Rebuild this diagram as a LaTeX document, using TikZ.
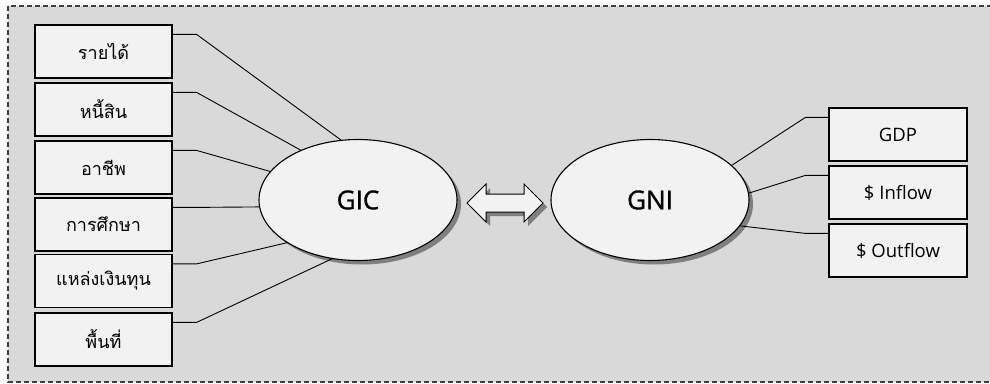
\documentclass[tikz,border=0pt]{standalone}
\usepackage{fontspec}
\setmainfont{Open Sans}
\newfontfamily\thaifont[Script=Thai]{Loma}
\newfontfamily\ellfont[FakeBold=1.2]{Open Sans}
\usetikzlibrary{shapes.geometric,calc}
\definecolor{bg}{HTML}{D9D9D9}
\definecolor{boxfill}{HTML}{F2F2F2}
\definecolor{frame}{HTML}{404040}
\definecolor{shadowc}{HTML}{7F7F7F}
\tikzset{
  leftbox/.style={draw=black, line width=1.2pt, fill=boxfill, minimum width=137, minimum height=53, inner sep=0pt, font=\thaifont\fontsize{18}{20}\selectfont},
  rightbox/.style={draw=black, line width=1.2pt, fill=boxfill, minimum width=138, minimum height=53, inner sep=0pt, font=\fontsize{18.5}{20}\selectfont},
  bigell/.style={ellipse, draw=black, line width=1.1pt, fill=boxfill, minimum width=198, minimum height=121, inner sep=0pt, font=\ellfont\fontsize{26}{30}\selectfont},
  link/.style={draw=black, line width=0.9pt},
}
\begin{document}
\begin{tikzpicture}[x=1pt,y=-1pt]
\useasboundingbox (0,0) rectangle (990,383);
\clip (0,0) rectangle (990,383);
\fill[bg] (8,6) rectangle (1000,382);
\draw[frame, line width=1.2pt, dash pattern=on 5pt off 3pt] (8,6) rectangle (1000,382);
% shadows
\fill[shadowc] (362,204) ellipse [x radius=99, y radius=60.5];
\fill[shadowc] (654,204) ellipse [x radius=99, y radius=60.5];
\fill[shadowc] (471,207) -- (490,188) -- (490,198) -- (528,198) -- (528,188) -- (547,207) -- (528,226) -- (528,216) -- (490,216) -- (490,226) -- cycle;
% arrow
\draw[black, line width=1pt, fill=boxfill] (467,203) -- (486,184) -- (486,194) -- (524,194) -- (524,184) -- (543,203) -- (524,222) -- (524,212) -- (486,212) -- (486,222) -- cycle;
% ellipses
\node[bigell] (gic) at (358,200) {GIC};
\node[bigell] (gni) at (650,200) {GNI};
% left boxes
\node[leftbox] (b1) at (103.5,51.5) {รายได้};
\node[leftbox] (b2) at (103.5,109.5) {หนี้สิน};
\node[leftbox] (b3) at (103.5,167.5) {อาชีพ};
\node[leftbox] (b4) at (103.5,224.5) {การศึกษา};
\node[leftbox] (b5) at (103.5,281) {แหล่งเงินทุน};
\node[leftbox] (b6) at (103.5,339.5) {พื้นที่};
% right boxes
\node[rightbox] (r1) at (898,134.5) {GDP};
\node[rightbox] (r2) at (898,192.5) {\$ Inflow};
\node[rightbox] (r3) at (898,250.5) {\$ Outflow};
% connectors
\draw[link] ([yshift=-10pt]b1.north east) -- ++(24,0) -- (gic.106.7);
\draw[link] ([yshift=-10pt]b2.north east) -- ++(24,0) -- (gic.139.4);
\draw[link] ([yshift=-10pt]b3.north east) -- ++(24,0) -- (gic.162.8);
\draw[link] ([yshift=-10pt]b4.north east) -- ++(24,0) -- (gic.184.7);
\draw[link] ([yshift=-10pt]b5.north east) -- ++(24,0) -- (gic.211);
\draw[link] ([yshift=-10pt]b6.north east) -- ++(24,0) -- (gic.246.4);
\draw[link] ([yshift=-10pt]r1.north west) -- ++(-23,0) -- (gni.23);
\draw[link] ([yshift=-10pt]r2.north west) -- ++(-23,0) -- (gni.4);
\draw[link] ([yshift=-10pt]r3.north west) -- ++(-23,0) -- (gni.-16.4);
\end{tikzpicture}
\end{document}
